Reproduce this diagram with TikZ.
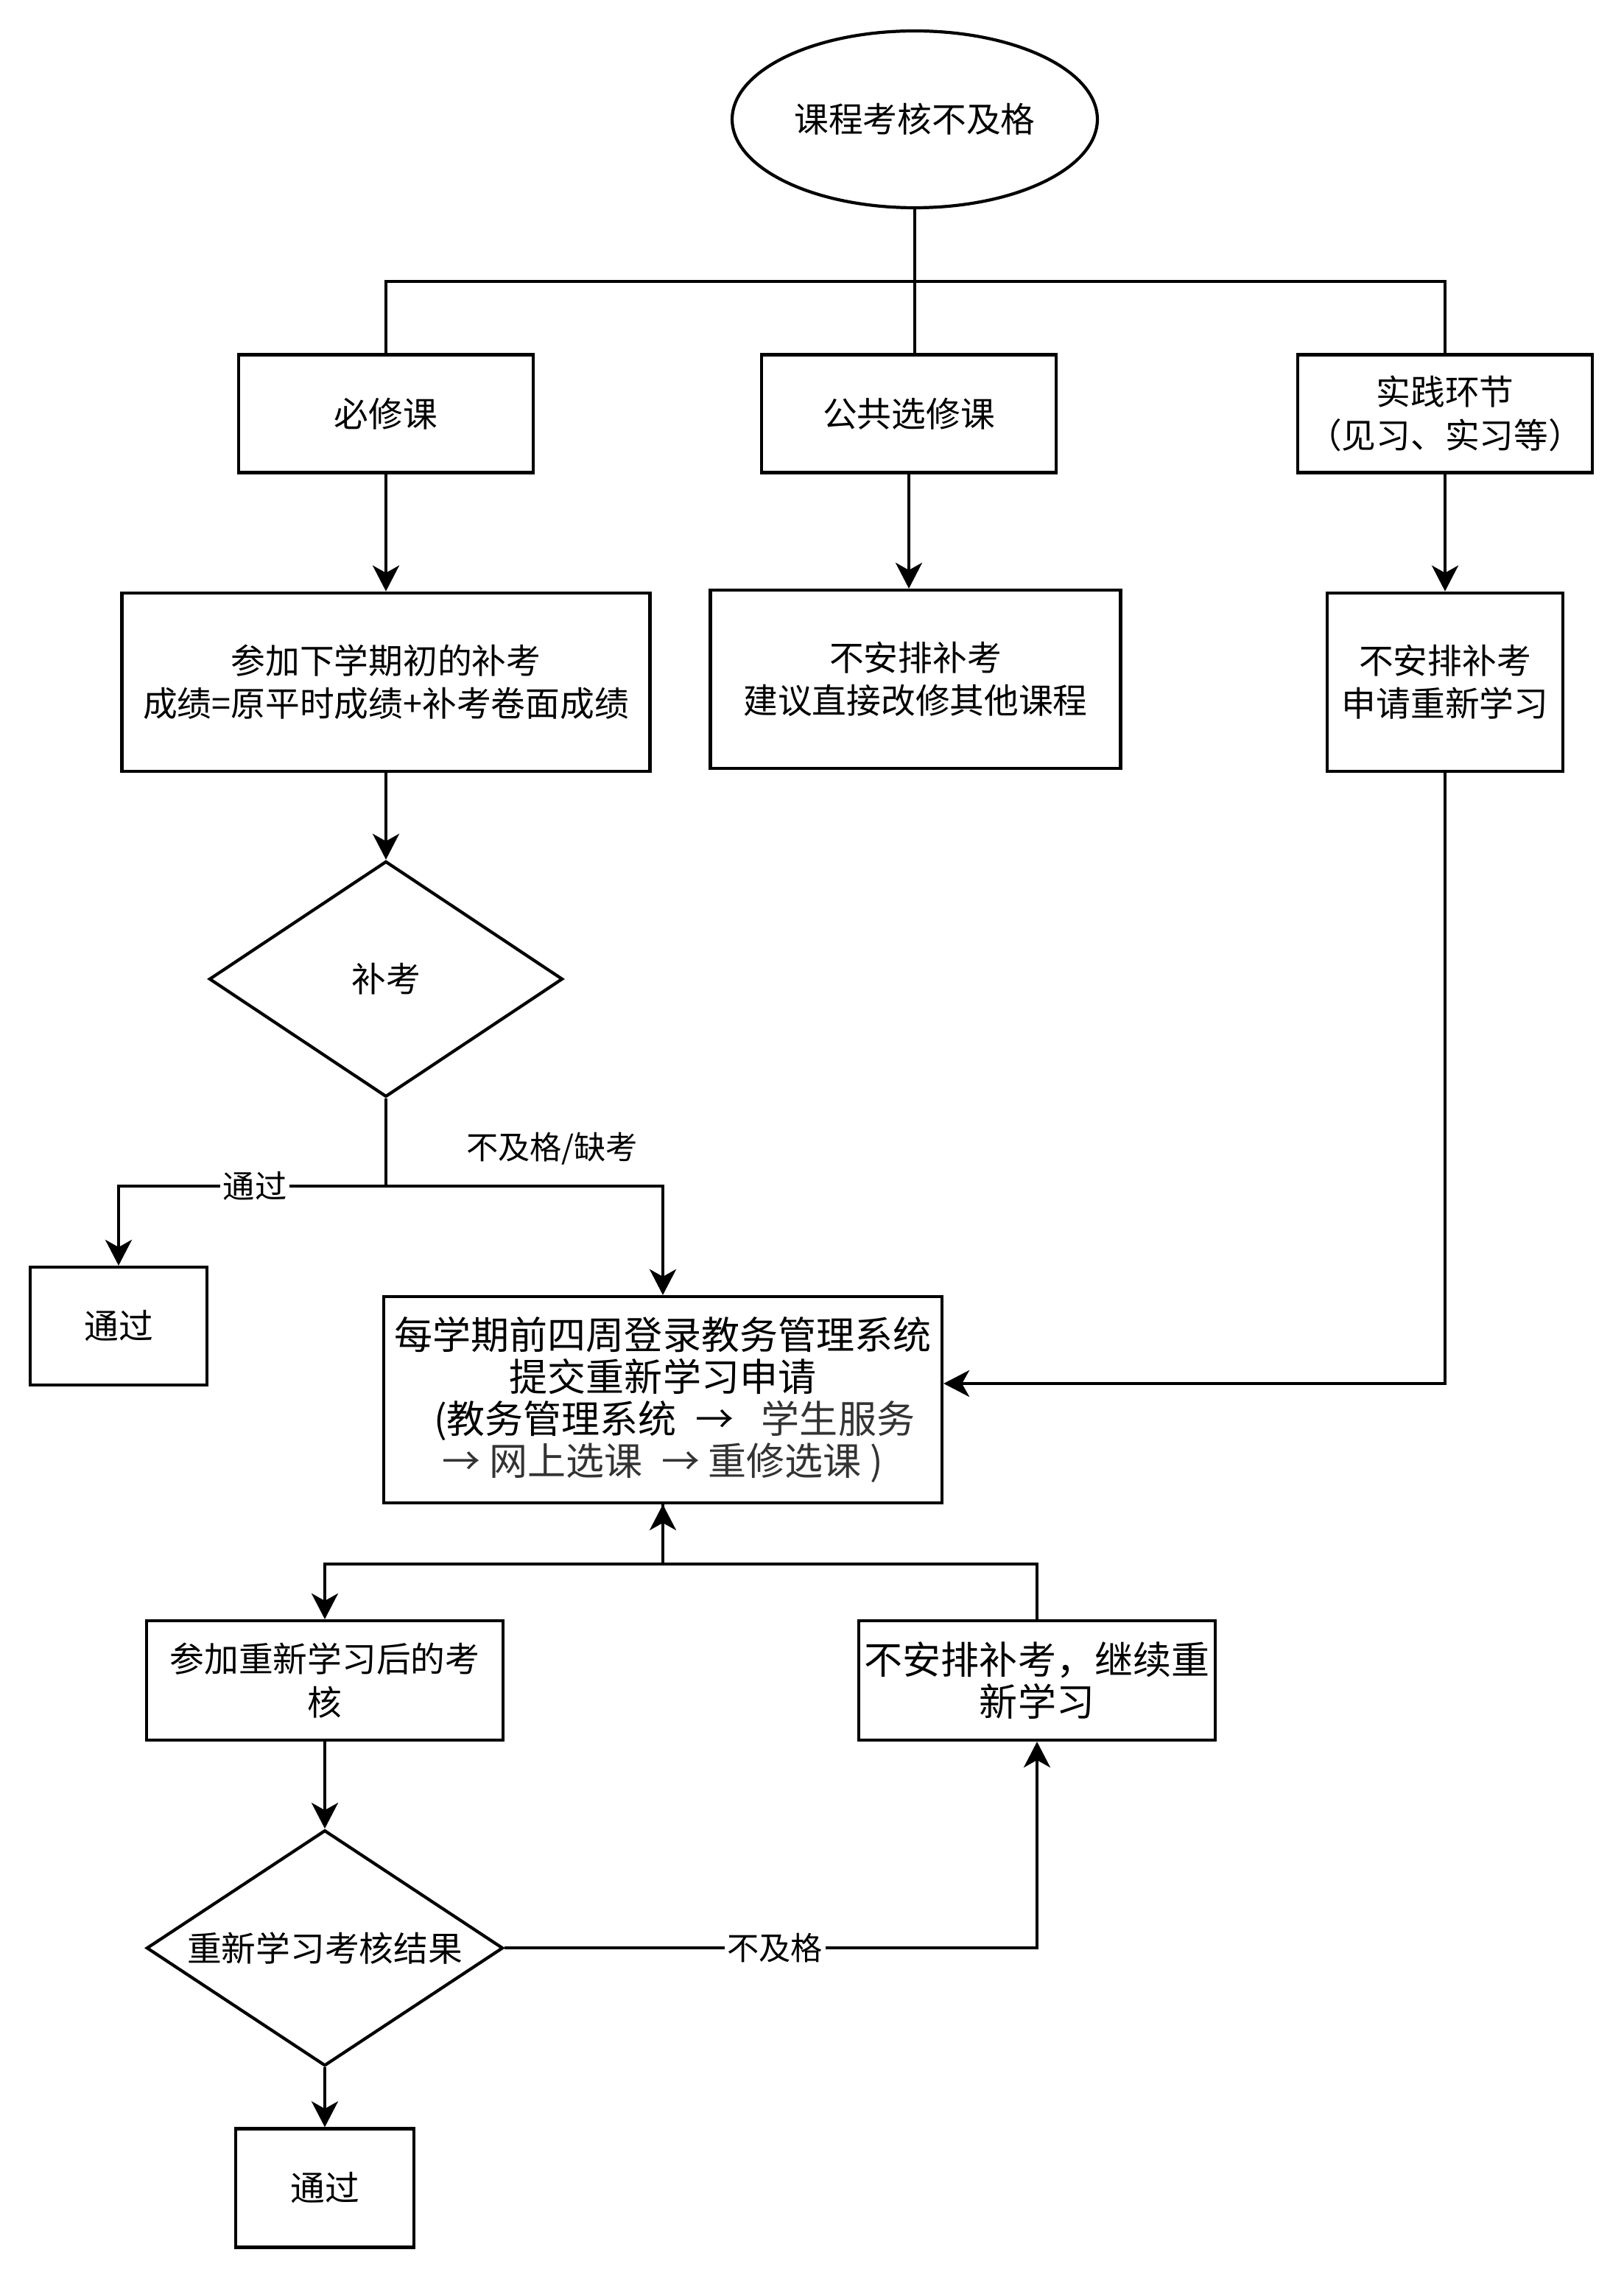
\documentclass[tikz,border=0pt]{standalone}
\usepackage{fontspec}
\setmainfont{Noto Sans CJK SC}
\usetikzlibrary{positioning, shapes.geometric, arrows.meta}
\definecolor{darkgrey}{HTML}{333333}

\begin{document}
\begin{tikzpicture}[
        x=1cm, y=1cm,
        every node/.style={font=\fontsize{13.3pt}{16.6pt}\selectfont, align=center},
        box/.style={draw, line width=1.2pt, rectangle, inner sep=2pt},
        cond/.style={draw, line width=1.2pt, diamond, aspect=1.5, inner sep=0pt},
        arr/.style={-{Stealth[length=0.35cm, width=0.36cm, inset=0.1cm]}},
        lbl/.style={fill=white, inner sep=1pt, font=\fontsize{12.3pt}{15pt}\selectfont},
        big/.style={font=\fontsize{14.8pt}{16.3pt}\selectfont},
        line width=1.2pt
    ]
        \useasboundingbox (0,0) rectangle (22.04,-30.84);
        \node[draw, ellipse, line width=1.2pt, minimum width=4.80cm, minimum height=2.40cm] (start) at (12.42,-1.62) {课程考核不及格};
        \coordinate (split) at (12.42,-3.82);
        \node[box, minimum width=4.00cm, minimum height=1.60cm] (bx) at (5.24,-5.615) {必修课};
        \node[box, minimum width=4.00cm, minimum height=1.60cm] (gx) at (12.34,-5.615) {公共选修课};
        \node[box, minimum width=4.00cm, minimum height=1.60cm] (sx) at (19.62,-5.615) {实践环节\\（见习、实习等）};
        \node[box, minimum width=7.17cm, minimum height=2.42cm, below=1.59cm of bx] (b1) {参加下学期初的补考\\成绩=原平时成绩+补考卷面成绩};
        \node[box, minimum width=5.57cm, minimum height=2.42cm] (g1) at (12.43,-9.22) {不安排补考\\建议直接改修其他课程};
        \node[box, minimum width=3.20cm, minimum height=2.42cm, below=1.59cm of sx] (s1) {不安排补考\\申请重新学习};
        \node[cond, minimum width=4.80cm, minimum height=3.20cm, below=1.18cm of b1] (bk) {补考};
        \coordinate[below=1.19cm of bk] (kp);
        \node[box, minimum width=2.40cm, minimum height=1.60cm] (p1) at (1.61,-18.00) {通过};
        \node[box, big, minimum width=7.58cm, minimum height=2.80cm] (big) at (9.00,-19.00) {每学期前四周登录教务管理系统\\提交重新学习申请\\\hspace{0.6em}(教务管理系统 $\;$→ \textcolor{darkgrey}{$\;$ 学生服务}\\\textcolor{darkgrey}{→ 网上选课 $\;$→ 重修选课 )}};
        \coordinate[below=0.81cm of big] (jn);
        \node[box, minimum width=4.84cm, minimum height=1.62cm] (rb) at (4.41,-22.81) {参加重新学习后的考\\核};
        \node[box, big, minimum width=4.84cm, minimum height=1.62cm] (cb) at (14.08,-22.81) {不安排补考，继续重\\新学习};
        \node[cond, minimum width=4.84cm, minimum height=3.20cm, below=1.18cm of rb] (rd) {重新学习考核结果};
        \node[box, minimum width=2.42cm, minimum height=1.61cm, below=0.81cm of rd] (p2) {通过};

        \draw (start) -- (split);
        \draw (bx) |- (split) -| (sx);
        \draw (split) -- (split |- gx.north);
        \draw[arr] (bx) -- (b1);
        \draw[arr] (gx) -- (gx.south |- g1.north);
        \draw[arr] (sx) -- (s1);
        \draw[arr] (b1) -- (bk);
        \draw (bk) -- (kp);
        \draw[arr] (kp) -| node[lbl, pos=0.245] {通过} (p1);
        \draw[arr] (kp) -| node[lbl, pos=0.3, yshift=0.51cm, fill=none] {不及格/缺考} (big);
        \draw[arr] (s1) |- ([yshift=0.22cm]big.east);
        \draw[arr] (big) -- (jn) -| (rb);
        \draw[arr] (cb) |- (jn) -- (big);
        \draw[arr] (rb) -- (rd);
        \draw[arr] (rd) -| node[lbl, pos=0.254] {不及格} (cb);
        \draw[arr] (rd) -- (p2);
    \end{tikzpicture}
\end{document}
